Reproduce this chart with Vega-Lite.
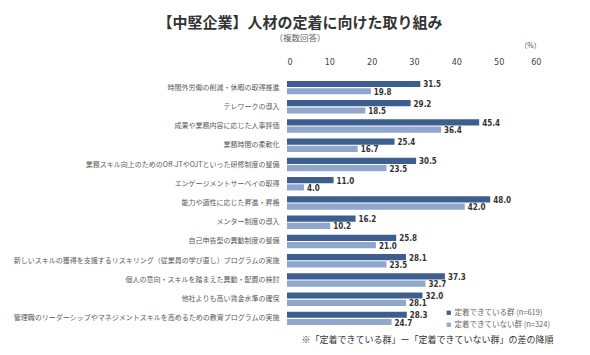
{
  "$schema": "https://vega.github.io/schema/vega-lite/v6.json",
  "autosize": {"type": "none"},
  "width": 254,
  "height": 250,
  "padding": {"left": 287, "top": 78, "right": 49, "bottom": 27},
  "background": "white",
  "title": {
    "text": "【中堅企業】人材の定着に向けた取り組み",
    "subtitle": "（複数回答）",
    "anchor": "middle",
    "dx": -114,
    "offset": -1,
    "font": "Noto Sans CJK JP",
    "fontSize": 15,
    "fontWeight": "bold",
    "color": "#333333",
    "subtitleFont": "Noto Sans CJK JP",
    "subtitleFontSize": 8.5,
    "subtitleColor": "#666666",
    "subtitlePadding": 3
  },
  "config": {
    "view": {"stroke": null},
    "font": "Noto Sans CJK JP"
  },
  "data": {
    "values": [
      {"item": "時間外労働の削減・休暇の取得推進", "group": "定着できている群 (n=619)", "value": 31.5},
      {"item": "時間外労働の削減・休暇の取得推進", "group": "定着できていない群 (n=324)", "value": 19.8},
      {"item": "テレワークの導入", "group": "定着できている群 (n=619)", "value": 29.2},
      {"item": "テレワークの導入", "group": "定着できていない群 (n=324)", "value": 18.5},
      {"item": "成果や業務内容に応じた人事評価", "group": "定着できている群 (n=619)", "value": 45.4},
      {"item": "成果や業務内容に応じた人事評価", "group": "定着できていない群 (n=324)", "value": 36.4},
      {"item": "業務時間の柔軟化", "group": "定着できている群 (n=619)", "value": 25.4},
      {"item": "業務時間の柔軟化", "group": "定着できていない群 (n=324)", "value": 16.7},
      {"item": "業務スキル向上のためのOff-JTやOJTといった研修制度の整備", "group": "定着できている群 (n=619)", "value": 30.5},
      {"item": "業務スキル向上のためのOff-JTやOJTといった研修制度の整備", "group": "定着できていない群 (n=324)", "value": 23.5},
      {"item": "エンゲージメントサーベイの取得", "group": "定着できている群 (n=619)", "value": 11.0},
      {"item": "エンゲージメントサーベイの取得", "group": "定着できていない群 (n=324)", "value": 4.0},
      {"item": "能力や適性に応じた昇進・昇格", "group": "定着できている群 (n=619)", "value": 48.0},
      {"item": "能力や適性に応じた昇進・昇格", "group": "定着できていない群 (n=324)", "value": 42.0},
      {"item": "メンター制度の導入", "group": "定着できている群 (n=619)", "value": 16.2},
      {"item": "メンター制度の導入", "group": "定着できていない群 (n=324)", "value": 10.2},
      {"item": "自己申告型の異動制度の整備", "group": "定着できている群 (n=619)", "value": 25.8},
      {"item": "自己申告型の異動制度の整備", "group": "定着できていない群 (n=324)", "value": 21.0},
      {"item": "新しいスキルの獲得を支援するリスキリング（従業員の学び直し）プログラムの実施", "group": "定着できている群 (n=619)", "value": 28.1},
      {"item": "新しいスキルの獲得を支援するリスキリング（従業員の学び直し）プログラムの実施", "group": "定着できていない群 (n=324)", "value": 23.5},
      {"item": "個人の意向・スキルを踏まえた異動・配置の検討", "group": "定着できている群 (n=619)", "value": 37.3},
      {"item": "個人の意向・スキルを踏まえた異動・配置の検討", "group": "定着できていない群 (n=324)", "value": 32.7},
      {"item": "他社よりも高い賃金水準の確保", "group": "定着できている群 (n=619)", "value": 32.0},
      {"item": "他社よりも高い賃金水準の確保", "group": "定着できていない群 (n=324)", "value": 28.1},
      {"item": "管理職のリーダーシップやマネジメントスキルを高めるための教育プログラムの実施", "group": "定着できている群 (n=619)", "value": 28.3},
      {"item": "管理職のリーダーシップやマネジメントスキルを高めるための教育プログラムの実施", "group": "定着できていない群 (n=324)", "value": 24.7}
    ]
  },
  "encoding": {
    "y": {
      "field": "item",
      "type": "nominal",
      "sort": null,
      "scale": {"paddingInner": 0.3, "paddingOuter": 0.15},
      "axis": {
        "title": null,
        "ticks": false,
        "domain": false,
        "labelPadding": 8,
        "labelFontSize": 7,
        "labelColor": "#5a5a5a",
        "labelLimit": 300
      }
    },
    "yOffset": {
      "field": "group",
      "type": "nominal",
      "sort": ["定着できている群 (n=619)", "定着できていない群 (n=324)"],
      "scale": {"paddingInner": 0.15}
    }
  },
  "layer": [
    {
      "mark": {"type": "bar"},
      "encoding": {
        "x": {
          "field": "value",
          "type": "quantitative",
          "scale": {"domain": [0, 60]},
          "axis": {
            "orient": "top",
            "values": [0, 10, 20, 30, 40, 50, 60],
            "grid": false,
            "ticks": false,
            "domain": false,
            "labelPadding": 12,
            "labelFont": "DejaVu Sans Condensed",
            "labelFontSize": 9,
            "labelColor": "#444444",
            "title": "（%）",
            "titleFont": "Noto Sans CJK JP",
            "titleFontSize": 7,
            "titleFontWeight": "normal",
            "titleColor": "#555555",
            "titleX": 243,
            "titleY": -30,
            "titleAlign": "center"
          }
        },
        "color": {
          "field": "group",
          "type": "nominal",
          "scale": {
            "domain": ["定着できている群 (n=619)", "定着できていない群 (n=324)"],
            "range": ["#3d5e8f", "#8fa6cd"]
          },
          "legend": {
            "title": null,
            "orient": "none",
            "legendX": 158,
            "legendY": 231,
            "symbolType": "square",
            "symbolSize": 18,
            "symbolStrokeWidth": 0,
            "labelFontSize": 7.5,
            "labelColor": "#666666",
            "rowPadding": 3,
            "labelOffset": 2
          }
        }
      }
    },
    {
      "mark": {
        "type": "text",
        "align": "left",
        "baseline": "middle",
        "dx": 3,
        "dy": 1.5,
        "font": "DejaVu Sans Condensed",
        "fontWeight": "bold",
        "fontSize": 8,
        "color": "#333333"
      },
      "encoding": {
        "x": {
          "field": "value",
          "type": "quantitative",
          "scale": {"domain": [0, 60]},
          "axis": {
            "orient": "bottom",
            "labels": false,
            "ticks": false,
            "domain": false,
            "grid": false,
            "title": "※「定着できている群」ー「定着できていない群」の差の降順",
            "titleFont": "Noto Sans CJK JP",
            "titleFontSize": 9,
            "titleFontWeight": "normal",
            "titleColor": "#333333",
            "titlePadding": 7,
            "titleAnchor": "middle",
            "titleX": 140
          }
        },
        "text": {"field": "value", "type": "quantitative", "format": ".1f"}
      }
    }
  ],
  "resolve": {"axis": {"x": "independent"}}
}
